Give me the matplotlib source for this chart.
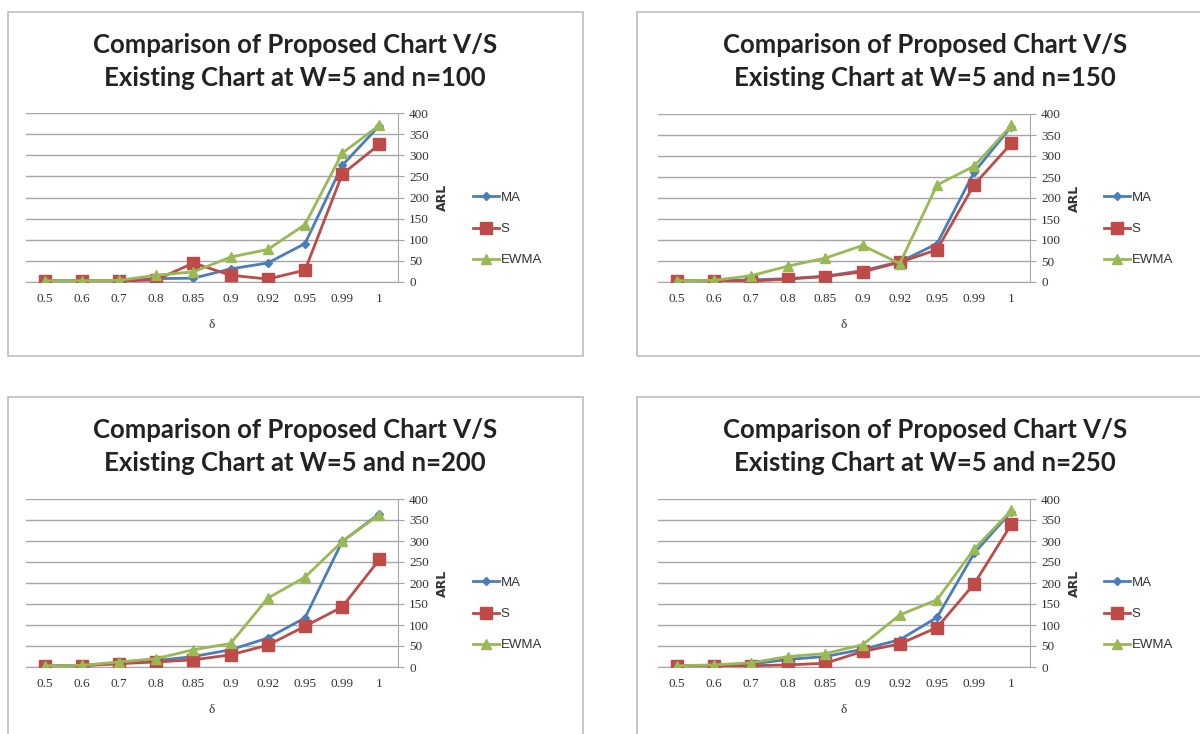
import matplotlib
matplotlib.use("Agg")
import matplotlib.pyplot as plt
from matplotlib.patches import Rectangle

# shift values on the x axis and sample sizes per panel
shift = ["0.5", "0.6", "0.7", "0.8", "0.85", "0.9", "0.92", "0.95", "0.99", "1"]
sizes = [100, 150, 200, 250]

ma_100 = [3, 3, 3, 8, 9, 31, 45, 91, 276, 370]
s_100 = [2, 2, 2, 5, 45, 16, 7, 28, 255, 326]
ewma_100 = [3, 3, 4, 16, 24, 59, 77, 136, 305, 371]

ma_150 = [3, 3, 5, 8, 14, 27, 48, 91, 262, 370]
s_150 = [2, 2, 2, 7, 13, 24, 47, 77, 232, 330]
ewma_150 = [3, 4, 15, 38, 57, 87, 44, 231, 276, 373]

ma_200 = [3, 4, 8, 15, 25, 41, 69, 117, 299, 365]
s_200 = [2, 3, 8, 12, 17, 29, 52, 97, 143, 256]
ewma_200 = [3, 4, 12, 20, 41, 56, 164, 214, 299, 363]

ma_250 = [3, 4, 7, 18, 25, 42, 65, 118, 271, 370]
s_250 = [2, 2, 3, 5, 9, 37, 55, 94, 198, 340]
ewma_250 = [3, 5, 10, 25, 32, 53, 124, 160, 281, 373]

series = [(ma_100, s_100, ewma_100), (ma_150, s_150, ewma_150),
          (ma_200, s_200, ewma_200), (ma_250, s_250, ewma_250)]

W, H = 1200, 734

# pixel layout per panel: box (l, t, r, b), plot (l, r, t, b), title centre x, title y, legend x, legend y
layout = [
    ((8, 12, 583, 356), (26, 398, 113, 282), 295, 45, 461, 229),
    ((637, 12, 1215, 356), (658, 1030, 114, 282), 925, 45, 1092, 229),
    ((8, 397, 583, 745), (26, 398, 499, 667), 295, 430, 461, 614),
    ((637, 397, 1215, 745), (658, 1030, 499, 667), 925, 430, 1092, 614),
]

blue, red, green = "#4A7EBB", "#BE4B48", "#98B954"
title_font = "Lato"
tick_font = "Liberation Serif"


def fx(px):
    return px / W


def fy(py):
    return 1 - py / H


fig = plt.figure(figsize=(12, 7.34), dpi=100)

for i, n in enumerate(sizes):
    box, plot, tcx, ty, lx, ly = layout[i]
    ma, s, ewma = series[i]

    fig.patches.append(Rectangle((fx(box[0]), fy(box[3])), (box[2] - box[0]) / W,
                                 (box[3] - box[1]) / H, transform=fig.transFigure,
                                 fill=False, edgecolor="#BDBDBD", linewidth=1.2))

    fig.text(fx(tcx), fy(ty), "Comparison of Proposed Chart V/S", ha="center", va="center",
             fontsize=18.5, fontweight="bold", family=title_font, color="#222222")
    fig.text(fx(tcx), fy(ty + 33), "Existing Chart at W=5 and n=%d" % n, ha="center", va="center",
             fontsize=18.5, fontweight="bold", family=title_font, color="#222222")

    pl, pr, pt, pb = plot
    ax = fig.add_axes([fx(pl), fy(pb), (pr - pl) / W, (pb - pt) / H])
    x = list(range(len(shift)))
    ax.plot(x, ma, color=blue, linewidth=2, marker="D", markersize=4.5, label="MA", zorder=2)
    ax.plot(x, s, color=red, linewidth=2, marker="s", markersize=8, label="S", zorder=3)
    ax.plot(x, ewma, color=green, linewidth=2, marker="^", markersize=7.5, label="EWMA", zorder=4)

    ax.set_xlim(-0.5, len(shift) - 0.5)
    ax.set_ylim(0, 400)
    ax.set_yticks(range(0, 401, 50))
    ax.set_xticks(x)
    ax.set_xticklabels(shift)
    ax.yaxis.tick_right()
    ax.yaxis.set_label_position("right")
    ax.grid(axis="y", color="#A6A6A6", linewidth=1)
    ax.set_axisbelow(True)
    for side in ["top", "left"]:
        ax.spines[side].set_visible(False)
    ax.spines["bottom"].set_color("#A6A6A6")
    ax.spines["right"].set_color("#A6A6A6")
    ax.tick_params(axis="x", length=0, pad=8, labelsize=9.5, labelcolor="#333333")
    ax.tick_params(axis="y", length=4, color="#A6A6A6", pad=4, labelsize=9.5, labelcolor="#333333")
    for lab in ax.get_xticklabels() + ax.get_yticklabels():
        lab.set_family(tick_font)
    ax.set_ylabel("ARL", fontsize=9, fontweight="bold", family="DejaVu Sans", labelpad=5, color="#333333")
    ax.set_xlabel("δ", fontsize=9.5, family=tick_font, labelpad=10, color="#333333")

    ax.legend(loc="center left", bbox_to_anchor=(fx(lx), fy(ly)), bbox_transform=fig.transFigure,
              frameon=False, handlelength=2.0, handletextpad=0.1, labelspacing=1.45,
              prop={"family": "Liberation Sans", "size": 9.5}, labelcolor="#333333")

fig.savefig("out.png", dpi=100)
